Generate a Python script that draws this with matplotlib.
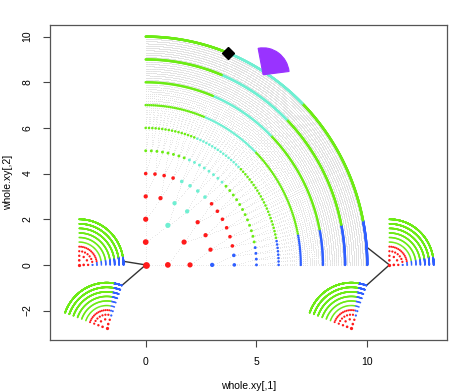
import numpy as np
import matplotlib
matplotlib.use("Agg")
import matplotlib.pyplot as plt
from matplotlib.patches import Wedge

plt.rcParams['font.family'] = ['Liberation Sans', 'DejaVu Sans']

# tree layout: one ring per depth, 2^d nodes per ring spread over a quarter circle
depths = [0, 1, 2, 3, 4, 5, 6, 7, 8, 9, 10]
n_nodes = [1, 2, 4, 8, 16, 32, 64, 128, 256, 512, 1024]
edge_steps = [0.1, 0.2, 0.3, 0.4, 0.5, 0.6, 0.7, 0.8, 0.9]

# node categories (fraction of the ring index)
blue_band = (0.0, 0.125)      # from depth 3 on
cyan_band = (0.5, 0.75)       # from depth 2 on
red_depths = [0, 1, 2, 3, 4]  # the rest of the inner rings is red, outer rings green

# small copies of the tree
mini_scale = 0.2
mini_centers = [(-3.0, 0.0), (-1.76, -2.78), (11.0, 0.0), (9.28, -2.78)]
mini_rot = [0, 70, 0, 70]
link_leaf_angle = 4.5

# extra marks
diamond_rt = (10.0, 68.2)
wedge_center = (5.3, 8.33)
wedge_radius = 1.18
wedge_angles = (7, 101)

C_RED = '#FF1A1A'
C_GREEN = '#6CEB14'
C_CYAN = '#6FEFD2'
C_BLUE = '#2F5FFF'
C_GREY = '#E2E2E2'

sizes_main = [24, 17, 14, 9.5, 6.8, 4.4, 3.5, 3.2, 3.2, 3.2, 3.2]
sizes_mini = [5.5, 3.6, 3.0, 2.6, 2.2, 1.4, 1.4, 1.4, 1.4, 1.4, 1.4]


def ring_xy(d, scale=1.0, center=(0.0, 0.0), rot=0.0, angles=None):
    n = n_nodes[d]
    if angles is None:
        if n > 1:
            angles = 90.0 * np.arange(n) / (n - 1)
        else:
            angles = np.zeros(1)
    th = np.radians(np.asarray(angles) + rot)
    r = depths[d] * scale
    return center[0] + r * np.cos(th), center[1] + r * np.sin(th)


def ring_colors(d, with_cyan=True):
    n = n_nodes[d]
    frac = np.arange(n) / n
    main = C_RED if depths[d] in red_depths else C_GREEN
    cols = np.array([main] * n, dtype=object)
    if depths[d] >= 2 and with_cyan:
        cols[(frac >= cyan_band[0]) & (frac < cyan_band[1])] = C_CYAN
    if depths[d] >= 3:
        cols[(frac >= blue_band[0]) & (frac < blue_band[1])] = C_BLUE
    return list(cols)


fig = plt.figure(figsize=(4.5, 3.92), dpi=100)
ax = fig.add_axes([50 / 450, 1 - 340 / 392, 397 / 450, 315 / 392])
ax.set_xlim(-4.32, 13.6)
ax.set_ylim(-3.29, 10.51)

# grey edge points between rings
gx, gy = [], []
for d in range(len(depths) - 1):
    px, py = ring_xy(d)
    cx, cy = ring_xy(d + 1)
    par = np.arange(n_nodes[d + 1]) // 2
    for t in edge_steps:
        gx.append(px[par] + t * (cx - px[par]))
        gy.append(py[par] + t * (cy - py[par]))
ax.scatter(np.concatenate(gx), np.concatenate(gy), s=0.35, c=C_GREY,
           linewidths=0, zorder=1)

# main tree nodes
for d in range(len(depths)):
    x, y = ring_xy(d)
    ax.scatter(x, y, s=sizes_main[d], c=ring_colors(d), linewidths=0, zorder=3)

# small copies
for cen, rot in zip(mini_centers, mini_rot):
    for d in range(len(depths)):
        x, y = ring_xy(d, mini_scale, cen, rot)
        ax.scatter(x, y, s=sizes_mini[d], c=ring_colors(d, with_cyan=False),
                   linewidths=0, zorder=3)

# connector lines
root = ring_xy(0)
lx, ly = ring_xy(10, mini_scale, mini_centers[0], mini_rot[0], [link_leaf_angle])
ax.plot([root[0][0], lx[0]], [root[1][0], ly[0]], color='#333333', lw=1, zorder=2)
lx, ly = ring_xy(10, mini_scale, mini_centers[1], mini_rot[1], [0])
ax.plot([root[0][0], lx[0]], [root[1][0], ly[0]], color='#333333', lw=1, zorder=2)
mx, my = ring_xy(10, angles=[link_leaf_angle])
ax.plot([mini_centers[2][0], mx[0]], [mini_centers[2][1], my[0]], color='#333333', lw=1, zorder=2)
lx, ly = ring_xy(10, mini_scale, mini_centers[3], mini_rot[3], [0])
ax.plot([mini_centers[2][0], lx[0]], [mini_centers[2][1], ly[0]], color='#333333', lw=1, zorder=2)

# diamond and purple wedge
th = np.radians(diamond_rt[1])
ax.plot([diamond_rt[0] * np.cos(th)], [diamond_rt[0] * np.sin(th)], marker='D',
        ms=6.3, color='black', zorder=5)
ax.add_patch(Wedge(wedge_center, wedge_radius, wedge_angles[0], wedge_angles[1],
                   facecolor='#9933FF', edgecolor='#9933FF', lw=0.8, zorder=4))

# axes in R base style
ax.set_xticks([0, 5, 10])
ax.set_yticks([-2, 0, 2, 4, 6, 8, 10])
ax.tick_params(direction='out', length=5, width=0.8, color='#444444',
               labelsize=7.5, pad=7.5)
ax.tick_params(axis='y', labelrotation=90)
for lab in ax.get_yticklabels():
    lab.set_va('center')
for sp in ax.spines.values():
    sp.set_color('#555555')
    sp.set_linewidth(0.9)

ax.set_xlabel('whole.xy[,1]', fontsize=7.5)
ax.set_ylabel('whole.xy[,2]', fontsize=7.5)
ax.xaxis.label.set_va('center')
ax.yaxis.label.set_va('center')
ax.xaxis.set_label_coords(0.5, -0.146)
ax.yaxis.set_label_coords(-0.105, 0.5)

fig.savefig('out.png', dpi=100, facecolor='white')
